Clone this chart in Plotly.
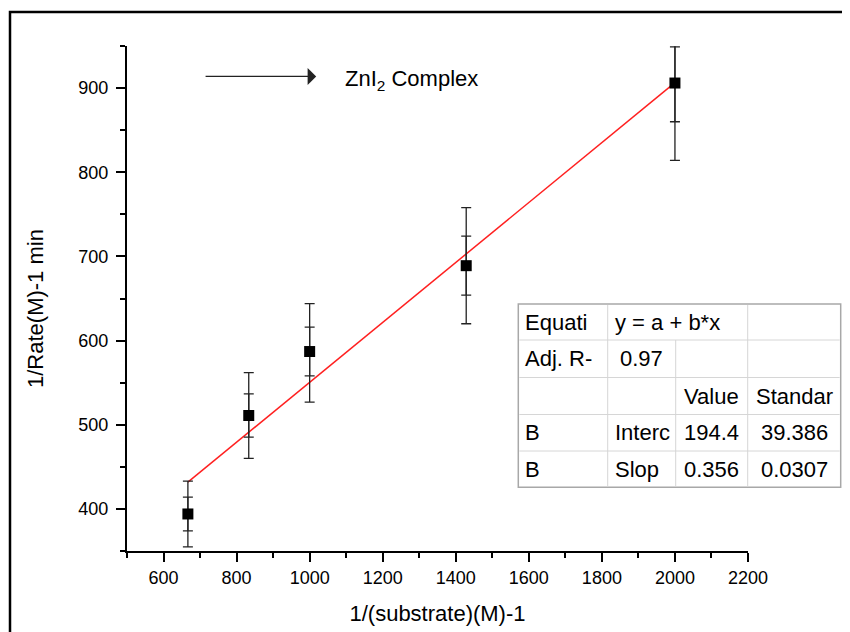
import plotly.graph_objects as go

# ---------------- data ----------------
substrate_inv = [666.7, 833.3, 1000.0, 1428.6, 2000.0]      # 1/(substrate) (M^-1)
rate_inv = [394, 511, 587, 689, 906]                          # 1/Rate (M^-1 min)
err_outer_plus = [39, 51, 57, 69, 43]
err_outer_minus = [39, 51, 60, 69, 92]
err_inner = [20, 25.6, 29, 35, 46]

fit_intercept = 194.4
fit_slope = 0.356

x_ticks = [600, 800, 1000, 1200, 1400, 1600, 1800, 2000, 2200]
y_ticks = [400, 500, 600, 700, 800, 900]

x_title = "1/(substrate)(M)-1"
y_title = "1/Rate(M)-1 min"

table_rows = [
    ["Equati", "y = a + b*x", "", ""],
    ["Adj. R-", "0.97", "", ""],
    ["", "", "Value", "Standar"],
    ["B", "Interc", "194.4", "39.386"],
    ["B", "Slop", "0.356", "0.0307"],
]

# ---------------- layout geometry (screen pixels) ----------------
OFF = 8  # page body margin
W, H = 850, 632
L = 127 - OFF
T = 46 - OFF
R = W - (748 - OFF)
B = H - (551 - OFF)
PW = W - L - R
PH = H - T - B


def px_x(p):
    return (p - OFF - L) / PW


def px_y(p):
    return (H - B - (p - OFF)) / PH


FONT = "Liberation Sans, Arial, sans-serif"
TICKFONT = dict(family=FONT, size=18, color="black")

fig = go.Figure()

# fit line
fx = [min(substrate_inv), max(substrate_inv)]
fy = [fit_intercept + fit_slope * v for v in fx]
fig.add_trace(go.Scatter(x=fx, y=fy, mode="lines",
                         line=dict(color="#ff2020", width=1.5),
                         showlegend=False, hoverinfo="skip"))

# inner error bars
fig.add_trace(go.Scatter(
    x=substrate_inv, y=rate_inv, mode="markers",
    marker=dict(size=1, color="rgba(0,0,0,0)"),
    error_y=dict(type="data", array=err_inner, symmetric=True,
                 color="#222222", thickness=1.3, width=5),
    showlegend=False))

# outer error bars + markers
fig.add_trace(go.Scatter(
    x=substrate_inv, y=rate_inv, mode="markers",
    marker=dict(symbol="square", size=11, color="black"),
    error_y=dict(type="data", array=err_outer_plus, arrayminus=err_outer_minus,
                 symmetric=False, color="#222222", thickness=1.3, width=5),
    showlegend=False))

fig.update_xaxes(
    range=[500, 2200], tickmode="array", tickvals=x_ticks,
    tickfont=TICKFONT,
    showline=True, linecolor="black", linewidth=2, mirror=False,
    showgrid=False, zeroline=False, ticks="outside", ticklen=9,
    tickwidth=2, tickcolor="black",
    minor=dict(dtick=100, tick0=500, ticks="outside", ticklen=5,
               tickwidth=2, tickcolor="black", showgrid=False),
    title=dict(text=x_title,
               font=dict(family=FONT, size=22, color="black"), standoff=19),
    automargin=False)

fig.update_yaxes(
    range=[350, 950], tickmode="array", tickvals=y_ticks,
    tickfont=TICKFONT,
    showline=True, linecolor="black", linewidth=2, mirror=False,
    showgrid=False, zeroline=False, ticks="outside", ticklen=9,
    tickwidth=2, tickcolor="black",
    minor=dict(dtick=50, tick0=350, ticks="outside", ticklen=5,
               tickwidth=2, tickcolor="black", showgrid=False),
    automargin=False, ticklabelstandoff=4)

shapes = []
# outer frame
shapes.append(dict(type="rect", xref="paper", yref="paper",
                   x0=px_x(10), x1=px_x(848), y0=px_y(12), y1=px_y(645),
                   line=dict(color="black", width=2.5), fillcolor="rgba(0,0,0,0)",
                   layer="above"))

# table geometry
tx = [518.3, 607.7, 675.7, 747.7, 840.7]
ty = [304, 340, 377.5, 414.5, 451, 487.3]
shapes.append(dict(type="rect", xref="paper", yref="paper",
                   x0=px_x(tx[0]), x1=px_x(tx[-1]), y0=px_y(ty[0]), y1=px_y(ty[-1]),
                   line=dict(color="#a8a8a8", width=1.5), fillcolor="white",
                   layer="above"))
inner_line = dict(color="#d6d6d6", width=1)
for yy in ty[1:-1]:
    shapes.append(dict(type="line", xref="paper", yref="paper",
                       x0=px_x(tx[0] + 1), x1=px_x(tx[-1] - 1), y0=px_y(yy), y1=px_y(yy),
                       line=inner_line, layer="above"))
shapes.append(dict(type="line", xref="paper", yref="paper",
                   x0=px_x(tx[1]), x1=px_x(tx[1]), y0=px_y(ty[0] + 1), y1=px_y(ty[-1] - 1),
                   line=inner_line, layer="above"))
shapes.append(dict(type="line", xref="paper", yref="paper",
                   x0=px_x(tx[2]), x1=px_x(tx[2]), y0=px_y(ty[1]), y1=px_y(ty[-1] - 1),
                   line=inner_line, layer="above"))
shapes.append(dict(type="line", xref="paper", yref="paper",
                   x0=px_x(tx[3]), x1=px_x(tx[3]), y0=px_y(ty[0] + 1), y1=px_y(ty[-1] - 1),
                   line=inner_line, layer="above"))

annotations = []
tfont = dict(family=FONT, size=22, color="black")
for r, row in enumerate(table_rows):
    yc = px_y((ty[r] + ty[r + 1]) / 2)
    for c, txt in enumerate(row):
        if not txt:
            continue
        is_num = txt.replace(".", "").isdigit()
        if c in (2, 3) or is_num:
            xc = px_x((tx[c] + tx[c + 1]) / 2)
            xa = "center"
        else:
            xc = px_x(tx[c] + 5)
            xa = "left"
        annotations.append(dict(xref="paper", yref="paper", x=xc, y=yc,
                                text=txt, showarrow=False, xanchor=xa,
                                yanchor="middle", font=tfont))

# y-axis title (placed like the original, a little below the axis centre)
annotations.append(dict(xref="paper", yref="paper", x=px_x(35), y=px_y(309),
                        text=y_title, textangle=-90, showarrow=False,
                        xanchor="center", yanchor="middle",
                        font=dict(family=FONT, size=22, color="black")))

# arrow + label
annotations.append(dict(xref="x", yref="y", axref="x", ayref="y",
                        x=1018, y=913.8, ax=711, ay=913.8, text="",
                        showarrow=True, arrowhead=1, arrowsize=2.2,
                        arrowwidth=1.3, arrowcolor="#222222", standoff=0,
                        startstandoff=0))
annotations.append(dict(xref="x", yref="y", x=1092, y=910,
                        text="ZnI<sub>2</sub> Complex", showarrow=False,
                        xanchor="left", yanchor="middle",
                        font=dict(family=FONT, size=22, color="black")))

fig.update_layout(
    width=W, height=H,
    margin=dict(l=L, r=R, t=T, b=B),
    paper_bgcolor="white", plot_bgcolor="white",
    shapes=shapes, annotations=annotations, showlegend=False,
)

fig.write_html("out.html")
